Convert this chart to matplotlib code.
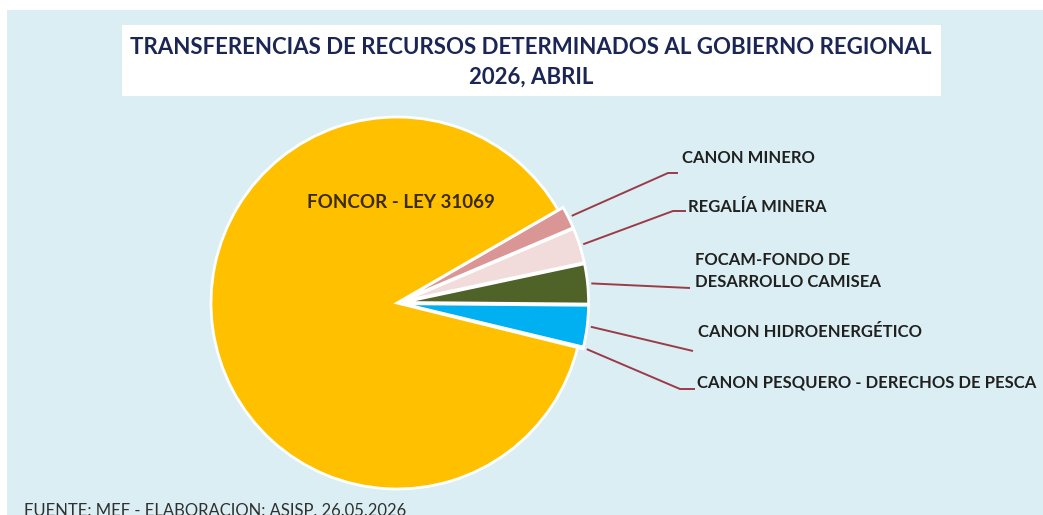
import matplotlib.pyplot as plt
from matplotlib.patches import Rectangle
import numpy as np

# Datos (participacion % aproximada)
categorias = [
    "CANON MINERO",
    "REGALÍA MINERA",
    "FOCAM-FONDO DE\nDESARROLLO CAMISEA",
    "CANON HIDROENERGÉTICO",
    "CANON PESQUERO - DERECHOS DE PESCA",
    "FONCOR - LEY 31069",
]
valores = [1.94, 3.06, 3.47, 3.61, 0.10, 87.82]
colores = ["#D99694", "#F2DCDB", "#4F6228", "#00B0F0", "#C0504D", "#FFC000"]
separacion = [0.03, 0.03, 0.03, 0.03, 0.03, 0.0]

titulo = "TRANSFERENCIAS DE RECURSOS DETERMINADOS AL GOBIERNO REGIONAL\n2026, ABRIL"
fuente = "FUENTE: MEF - ELABORACION: ASISP, 26.05.2026"

W, H = 1043, 515
CX, CY, R = 397, 303, 186  # centro y radio del pie en pixeles


def px(x, y):
    # pixel de la imagen -> coordenadas de datos del pie
    return (x - CX) / R, (CY - y) / R


# posiciones de etiquetas: (texto, codo, fin de linea) en pixeles
layout = [
    ((682, 158), (668, 173), (678, 173)),
    ((688, 207), (673, 211), (686, 211)),
    ((695, 271), None, (690, 288)),
    ((698, 332), None, (693, 351)),
    ((697, 383), (680, 389), (695, 389)),
]

fig = plt.figure(figsize=(W / 100, H / 100), dpi=100)
fig.patch.set_facecolor("white")
fig.add_artist(Rectangle((7 / W, 0), 1 - 7 / W, (H - 10) / H,
                         transform=fig.transFigure, facecolor="#DAEEF3",
                         edgecolor="none", zorder=-3))
fig.add_artist(Rectangle((122 / W, 1 - 96 / H), 819 / W, 71 / H,
                         transform=fig.transFigure, facecolor="white",
                         edgecolor="none", zorder=-2))

ax = fig.add_axes([0, 0, 1, 1])
ax.patch.set_visible(False)

wedges, _ = ax.pie(
    valores,
    colors=colores,
    explode=separacion,
    startangle=30,
    counterclock=False,
    wedgeprops=dict(edgecolor="white", linewidth=2),
)

ax.set_xlim(-CX / R, (W - CX) / R)
ax.set_ylim((CY - H) / R, CY / R)
ax.set_aspect("equal")
ax.axis("off")

lab_font = ["Lato", "DejaVu Sans"]

for w, exp, nombre, (txt, codo, fin) in zip(wedges, separacion, categorias, layout):
    ang = np.deg2rad((w.theta1 + w.theta2) / 2)
    r0 = 1.02 + exp
    pts = [(r0 * np.cos(ang), r0 * np.sin(ang))]
    if codo is not None:
        pts.append(px(*codo))
    pts.append(px(*fin))
    xs, ys = zip(*pts)
    ax.plot(xs, ys, color="#9B3B48", lw=1.4, solid_capstyle="butt")
    tx, ty = px(*txt)
    ax.text(tx, ty, nombre, ha="left", va="center", fontsize=12.0,
            fontweight="bold", color="#202020", family=lab_font,
            linespacing=1.45)

fx, fy = px(401, 203)
ax.text(fx, fy, categorias[-1], ha="center", va="center", fontsize=13.5,
        fontweight="bold", color="#3D2B00", family=lab_font)

fig.text(531 / W, 1 - 62 / H, titulo, ha="center", va="center",
         fontsize=16, fontweight="bold", color="#1B2654",
         family=lab_font, linespacing=1.5)

fig.text(24 / W, 1 - 503 / H, fuente, ha="left", va="top", fontsize=12,
         color="#303030", family=lab_font)

fig.savefig("out.png", dpi=100)
